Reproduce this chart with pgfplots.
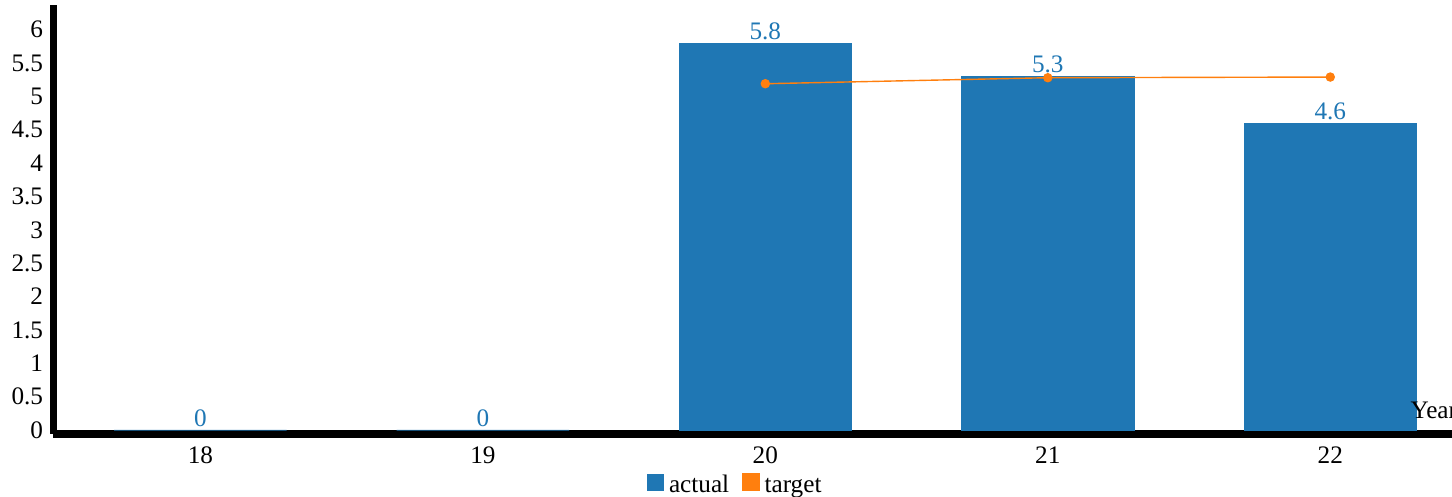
\documentclass[border=0pt]{standalone}
\usepackage{fontspec}
\setmainfont{Liberation Serif}
\usepackage{pgfplots}
\pgfplotsset{compat=1.18}
\definecolor{cblue}{RGB}{31,119,180}
\definecolor{corange}{RGB}{255,127,14}
\begin{document}
\begin{tikzpicture}[font=\fontsize{12.6}{15}\selectfont]
\clip (0,0) rectangle (726pt,248.5pt);
\begin{axis}[
  anchor=south west, at={(26.75pt,31.5pt)},
  scale only axis, width=709pt, height=214.5pt,
  xmin=17.48, xmax=22.5, ymin=-0.06, ymax=6.37,
  axis x line=bottom, axis y line=left,
  axis line style={line width=3.8pt, -},
  major tick length=0pt,
  /pgf/number format/assume math mode=true,
  xtick={18,19,20,21,22},
  ytick={0,0.5,1,1.5,2,2.5,3,3.5,4,4.5,5,5.5,6},
  yticklabels={0,0.5,1,1.5,2,2.5,3,3.5,4,4.5,5,5.5,6},
  xticklabels={18,19,20,21,22},
  xticklabel style={inner sep=0pt, anchor=north},
  yticklabel style={inner sep=0pt, anchor=east},
  xticklabel shift=6pt,
  yticklabel shift=5pt,
  tick label style={font=\fontsize{12.6}{15}\selectfont},
  legend columns=2,
  legend style={draw=none, fill=none, at={(0.482,-0.124)}, anchor=center,
    font=\fontsize{12.6}{15}\selectfont,
    nodes={text height=0.68em, text depth=0.22em, inner xsep=2.5pt},
    /tikz/every even column/.append style={column sep=4pt}},
  clip=false,
]
\addplot[ybar, bar width=0.61, fill=cblue, draw=cblue, line width=0.3pt,
  nodes near coords={\pgfmathprintnumber[assume math mode=true]{\pgfplotspointmeta}},
  nodes near coords style={text=cblue, font=\fontsize{12.6}{15}\selectfont, inner sep=1.5pt},
  legend image code/.code={\fill[cblue] (0pt,-1pt) rectangle (8pt,7pt);}]
  coordinates {(18,0) (19,0) (20,5.8) (21,5.3) (22,4.6)};
\addlegendentry{actual}
\addplot[corange, line width=0.7pt, mark=*, mark size=2pt, mark options={fill=corange, draw=corange},
  legend image code/.code={\fill[corange] (0pt,-1pt) rectangle (8pt,7pt);}]
  coordinates {(20,5.19) (21,5.28) (22,5.29)};
\addlegendentry{target}
\node[anchor=base west, inner sep=0pt, font=\fontsize{12.6}{15}\selectfont] at (axis cs:22.283,0.17) {Year};
\end{axis}
\end{tikzpicture}
\end{document}
